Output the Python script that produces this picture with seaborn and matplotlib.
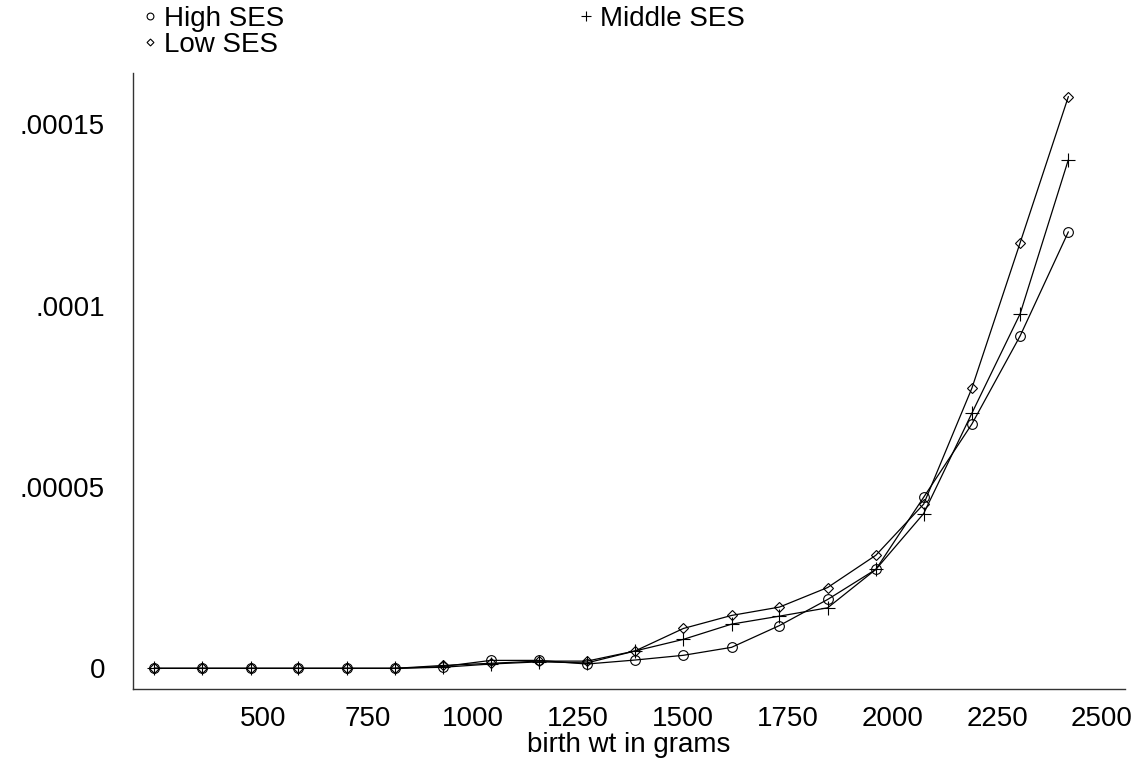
import matplotlib
matplotlib.use("Agg")
import matplotlib.pyplot as plt
from matplotlib.lines import Line2D
from matplotlib.ticker import FixedLocator, FuncFormatter
import seaborn as sns
import pandas as pd

# birth weight bins (grams)
birth_wt = [240, 355, 470, 584, 699, 814, 928, 1043, 1158, 1272,
            1387, 1502, 1617, 1731, 1846, 1961, 2075, 2190, 2305, 2420]

# predicted values
high_ses = [0, 0, 0, 0, 0, 0, 0.05e-5, 0.22e-5, 0.22e-5, 0.12e-5,
            0.23e-5, 0.36e-5, 0.58e-5, 1.18e-5, 1.90e-5, 2.73e-5, 4.72e-5, 6.74e-5, 9.17e-5, 12.04e-5]
middle_ses = [0, 0, 0, 0, 0, 0, 0.03e-5, 0.12e-5, 0.18e-5, 0.15e-5,
              0.48e-5, 0.80e-5, 1.22e-5, 1.44e-5, 1.67e-5, 2.73e-5, 4.27e-5, 7.04e-5, 9.78e-5, 14.03e-5]
low_ses = [0, 0, 0, 0, 0, 0, 0.08e-5, 0.14e-5, 0.20e-5, 0.20e-5,
           0.48e-5, 1.10e-5, 1.46e-5, 1.69e-5, 2.23e-5, 3.12e-5, 4.53e-5, 7.73e-5, 11.74e-5, 15.77e-5]

x_ticks = [500, 750, 1000, 1250, 1500, 1750, 2000, 2250, 2500]
y_ticks = [0, 0.00005, 0.0001, 0.00015]
y_tick_labels = ["0", ".00005", ".0001", ".00015"]

groups = ["High SES", "Middle SES", "Low SES"]
markers = {"High SES": "o", "Middle SES": "+", "Low SES": "D"}
msizes = {"High SES": 7, "Middle SES": 10, "Low SES": 5}

df = pd.concat([
    pd.DataFrame({"birth_wt": birth_wt, "pred": high_ses, "ses": "High SES"}),
    pd.DataFrame({"birth_wt": birth_wt, "pred": middle_ses, "ses": "Middle SES"}),
    pd.DataFrame({"birth_wt": birth_wt, "pred": low_ses, "ses": "Low SES"}),
])

sns.set_style("white")
plt.rcParams["font.family"] = ["Liberation Sans", "DejaVu Sans"]
plt.rcParams["text.color"] = "black"
plt.rcParams["axes.labelcolor"] = "black"
FS = 20

fig = plt.figure(figsize=(11.31, 7.65), dpi=100)
ax = fig.add_axes([0.1173, 0.0993, 0.8774, 0.8053])

for g in groups:
    sub = df[df["ses"] == g]
    sns.lineplot(data=sub, x="birth_wt", y="pred", ax=ax, color="black",
                 linewidth=0.9, marker=markers[g], markersize=msizes[g],
                 mfc="none", mec="black", mew=0.8, legend=False)

ax.set_xlim(189, 2555)
ax.set_ylim(-0.0000057, 0.0001642)
ax.xaxis.set_major_locator(FixedLocator(x_ticks))
ax.set_yticks(y_ticks)
ax.set_yticklabels(y_tick_labels)
ax.xaxis.set_major_formatter(FuncFormatter(lambda v, p: f"{int(v)}"))

for s in ["top", "right"]:
    ax.spines[s].set_visible(False)
for s in ["left", "bottom"]:
    ax.spines[s].set_color("#333333")
    ax.spines[s].set_linewidth(1.0)

ax.tick_params(axis="both", which="major", length=11, width=0.8, color="#555555",
               labelsize=FS, labelcolor="black", direction="out")
ax.tick_params(axis="x", pad=1)
ax.tick_params(axis="y", pad=9)
ax.set_xlabel("birth wt in grams", fontsize=FS, labelpad=0, color="black")
ax.set_ylabel("")

order = ["High SES", "Low SES", "Middle SES"]
handles = [Line2D([], [], linestyle="none", marker=markers[g], markersize=msizes[g] * 0.7,
                  mfc="none", mec="black", mew=0.8) for g in order]
fig.legend(handles, order, ncol=2, loc="upper left", bbox_to_anchor=(0.1278, 0.992),
           frameon=False, fontsize=FS, handlelength=0.4, handletextpad=0.3,
           columnspacing=10.65, labelspacing=0.0, borderpad=0, borderaxespad=0,
           labelcolor="black")

fig.savefig("out.png", dpi=100)
